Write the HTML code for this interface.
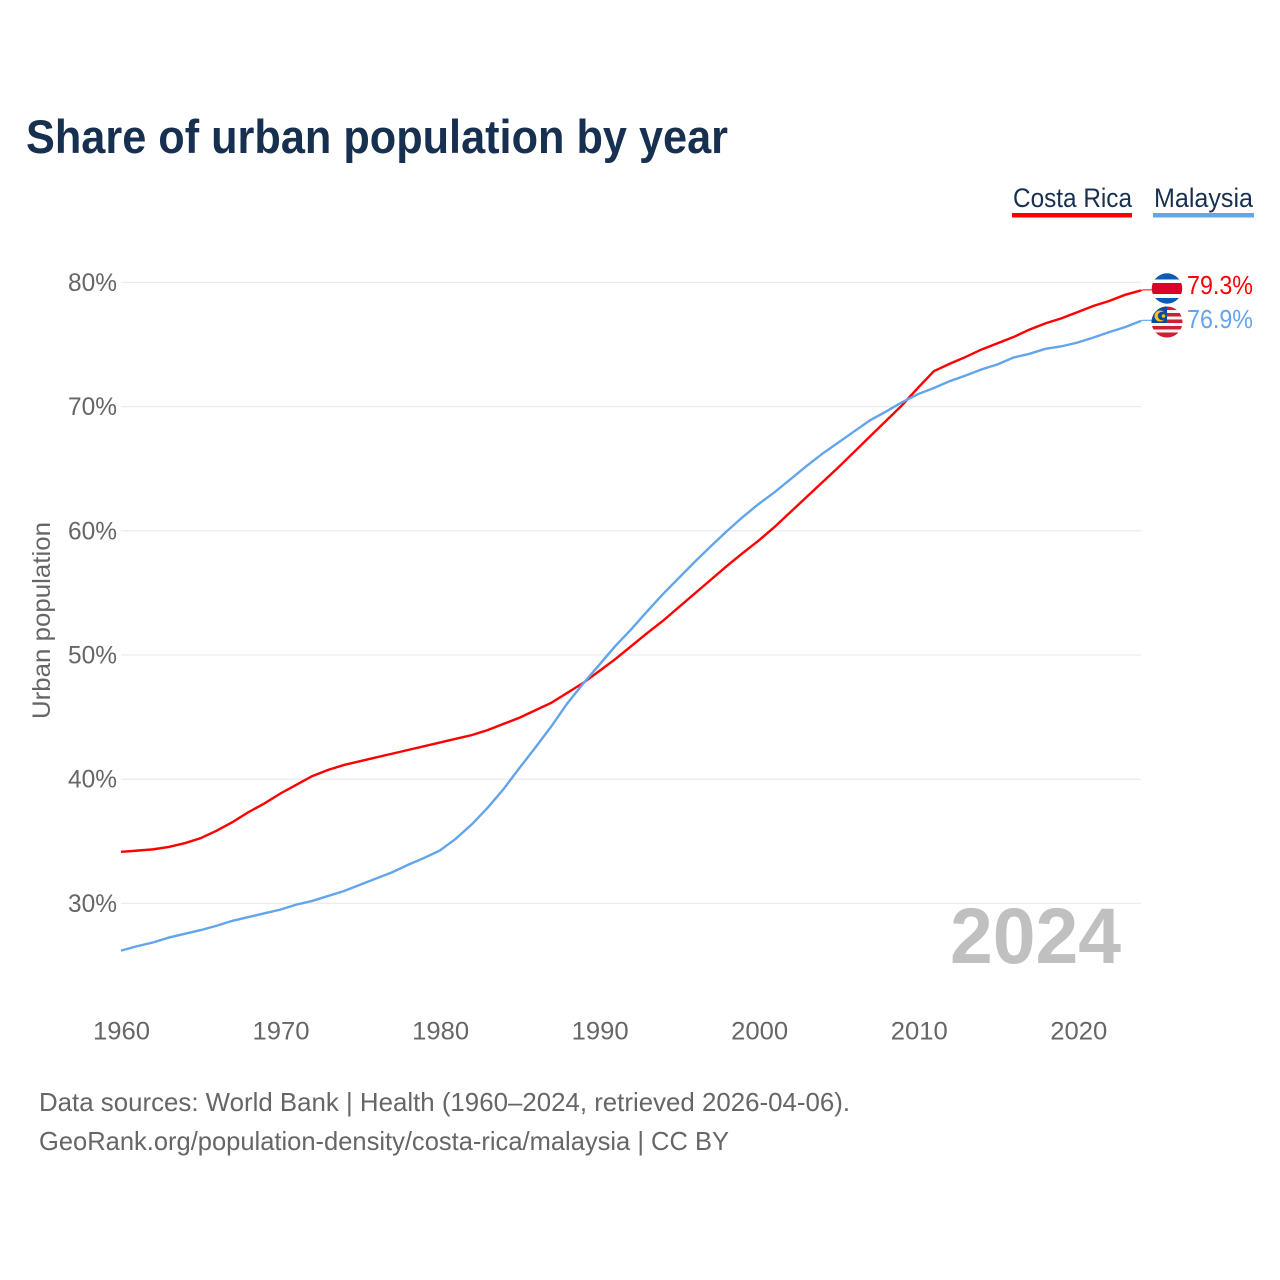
<!DOCTYPE html>
<html lang="en">
<head>
<meta charset="utf-8">
<title>Share of urban population by year</title>
<style>
html,body{margin:0;padding:0;background:#fff;width:1280px;height:1280px;overflow:hidden}
svg{display:block}
text{font-family:"Liberation Sans",sans-serif}
</style>
</head>
<body>
<svg id="chart" xmlns="http://www.w3.org/2000/svg" width="1280" height="1280" viewBox="0 0 1280 1280">
  <defs>
    <clipPath id="clip-cr"><circle cx="1167" cy="288.5" r="15.2"/></clipPath>
    <clipPath id="clip-my"><circle cx="1167" cy="322" r="15.5"/></clipPath>
  </defs>
  <text x="26" y="153" font-size="47" font-weight="700" fill="#18304f" textLength="702" lengthAdjust="spacingAndGlyphs">Share of urban population by year</text>

  <g>
    <g>
      <text x="1013" y="207" font-size="27" fill="#18304f" textLength="119" lengthAdjust="spacingAndGlyphs">Costa Rica</text>
      <rect x="1012" y="213" width="120" height="4.5" fill="#ff0000"/>
    </g>
    <g>
      <text x="1154" y="207" font-size="27" fill="#18304f" textLength="99" lengthAdjust="spacingAndGlyphs">Malaysia</text>
      <rect x="1153" y="213" width="101" height="4.5" fill="#62a5ec"/>
    </g>
  </g>

  <g id="grid"></g>
  <g id="yticks"></g>
  <g id="xticks"></g>

  <text transform="translate(50,719) rotate(-90)" x="0" y="0" font-size="25" fill="#666666" textLength="197" lengthAdjust="spacingAndGlyphs">Urban population</text>

  <text x="950" y="963" font-size="79" font-weight="700" fill="#c0c0c0" textLength="171" lengthAdjust="spacingAndGlyphs">2024</text>

  <g id="series"></g>

  <g clip-path="url(#clip-cr)">
    <rect x="1151" y="273" width="32" height="31" fill="#0c5cb3"/>
    <rect x="1151" y="279.5" width="32" height="18.5" fill="#ffffff"/>
    <rect x="1151" y="283" width="32" height="11" fill="#d90429"/>
  </g>
  <g clip-path="url(#clip-my)">
    <rect x="1151" y="306" width="32" height="32" fill="#f4f4f4"/>
    <rect x="1151" y="306" width="32" height="4" fill="#cc1f36"/>
    <rect x="1151" y="313" width="32" height="3.5" fill="#cc1f36"/>
    <rect x="1151" y="319.5" width="32" height="3.5" fill="#cc1f36"/>
    <rect x="1151" y="326" width="32" height="3.5" fill="#cc1f36"/>
    <rect x="1151" y="332.5" width="32" height="6" fill="#cc1f36"/>
    <rect x="1151" y="306" width="16" height="17" fill="#0d4a9c"/>
    <circle cx="1160" cy="316" r="5.5" fill="#f5c518"/>
    <circle cx="1162" cy="316" r="4.2" fill="#0d4a9c"/>
    <circle cx="1163.5" cy="316" r="1.8" fill="#f5c518"/>
  </g>

  <text x="1187" y="294" font-size="26" fill="#ff0000" textLength="66" lengthAdjust="spacingAndGlyphs">79.3%</text>
  <text x="1187" y="328" font-size="26" fill="#62a5ec" textLength="66" lengthAdjust="spacingAndGlyphs">76.9%</text>

  <text x="39" y="1111" font-size="26" fill="#666666" textLength="811" lengthAdjust="spacingAndGlyphs">Data sources: World Bank | Health (1960–2024, retrieved 2026-04-06).</text>
  <text x="39" y="1150" font-size="26" fill="#666666" textLength="690" lengthAdjust="spacingAndGlyphs">GeoRank.org/population-density/costa-rica/malaysia | CC BY</text>
</svg>
<script>
const years = [1960,1961,1962,1963,1964,1965,1966,1967,1968,1969,1970,1971,1972,1973,1974,1975,1976,1977,1978,1979,1980,1981,1982,1983,1984,1985,1986,1987,1988,1989,1990,1991,1992,1993,1994,1995,1996,1997,1998,1999,2000,2001,2002,2003,2004,2005,2006,2007,2008,2009,2010,2011,2012,2013,2014,2015,2016,2017,2018,2019,2020,2021,2022,2023,2024];
const costaRica = [34.15,34.25,34.35,34.55,34.85,35.25,35.85,36.55,37.35,38.05,38.85,39.55,40.25,40.75,41.15,41.45,41.75,42.05,42.35,42.65,42.95,43.25,43.55,43.95,44.45,44.95,45.55,46.15,46.95,47.75,48.7,49.65,50.7,51.75,52.75,53.85,54.95,56.05,57.15,58.2,59.2,60.3,61.5,62.7,63.9,65.1,66.35,67.6,68.85,70.1,71.5,72.85,73.45,74.0,74.6,75.1,75.6,76.2,76.7,77.1,77.6,78.1,78.5,79.0,79.35];
const malaysia = [26.2,26.55,26.85,27.25,27.55,27.85,28.2,28.6,28.9,29.2,29.5,29.9,30.2,30.6,31.0,31.5,32.0,32.5,33.1,33.65,34.25,35.2,36.35,37.7,39.2,40.9,42.55,44.25,46.1,47.7,49.2,50.7,52.05,53.5,54.9,56.2,57.5,58.75,59.95,61.1,62.15,63.1,64.15,65.2,66.2,67.1,68.0,68.9,69.6,70.35,71.0,71.5,72.05,72.5,73.0,73.4,73.95,74.25,74.65,74.85,75.15,75.55,76.0,76.4,76.9];
const yTicks = [30,40,50,60,70,80];
const xTicks = [1960,1970,1980,1990,2000,2010,2020];
const NS = 'http://www.w3.org/2000/svg';
const xOf = function(year){ return 121 + (year - 1960) * (1141 - 121) / 64; };
const yOf = function(v){ return 903.4 - (v - 30) * (903.4 - 282.4) / 50; };

const grid = document.getElementById('grid');
const yG = document.getElementById('yticks');
const xG = document.getElementById('xticks');
const seriesG = document.getElementById('series');

yTicks.forEach(function(t){
  const l = document.createElementNS(NS,'line');
  
  
  l.setAttribute('x1', 121); l.setAttribute('x2', 1141);
  l.setAttribute('y1', yOf(t)); l.setAttribute('y2', yOf(t));
  l.setAttribute('stroke', '#ececec'); l.setAttribute('stroke-width', '1.3');
  grid.appendChild(l);
  const s = document.createElementNS(NS,'text');
  
  
  s.setAttribute('x', 68); s.setAttribute('y', yOf(t) + 8.5);
  s.setAttribute('font-size', '25'); s.setAttribute('fill', '#666666');
  s.setAttribute('textLength', '49'); s.setAttribute('lengthAdjust', 'spacingAndGlyphs');
  s.textContent = t + '%';
  yG.appendChild(s);
});

xTicks.forEach(function(t){
  const s = document.createElementNS(NS,'text');
  
  
  s.setAttribute('x', xOf(t) + 0.5 + (t - 1960) / 60 - 28.5); s.setAttribute('y', 1039.5);
  s.setAttribute('font-size', '25'); s.setAttribute('fill', '#666666');
  s.setAttribute('textLength', '57'); s.setAttribute('lengthAdjust', 'spacingAndGlyphs');
  s.textContent = t;
  xG.appendChild(s);
});

function pathFor(values){
  return values.map(function(v,i){
    return (i ? 'L' : 'M') + xOf(years[i]).toFixed(2) + ' ' + yOf(v).toFixed(2);
  }).join(' ');
}
function connectorFor(values){
  const last = values[values.length - 1];
  return 'M' + xOf(years[years.length - 1]).toFixed(2) + ' ' + yOf(last).toFixed(2) + ' L1143 ' + (yOf(last) - 0.6).toFixed(2) + ' L1152 ' + (yOf(last) - 0.6).toFixed(2);
}

const lineCr = document.createElementNS(NS,'path');


lineCr.setAttribute('d', pathFor(costaRica));
lineCr.setAttribute('fill', 'none');
lineCr.setAttribute('stroke', '#ff0000');
lineCr.setAttribute('stroke-width', '2.4');
seriesG.appendChild(lineCr);

const connCr = document.createElementNS(NS,'path');


connCr.setAttribute('d', connectorFor(costaRica));
connCr.setAttribute('fill', 'none');
connCr.setAttribute('stroke', '#ff0000');
connCr.setAttribute('stroke-width', '1.1');
seriesG.appendChild(connCr);

const lineMy = document.createElementNS(NS,'path');


lineMy.setAttribute('d', pathFor(malaysia));
lineMy.setAttribute('fill', 'none');
lineMy.setAttribute('stroke', '#62a5ec');
lineMy.setAttribute('stroke-width', '2.4');
seriesG.appendChild(lineMy);

const connMy = document.createElementNS(NS,'path');


connMy.setAttribute('d', connectorFor(malaysia));
connMy.setAttribute('fill', 'none');
connMy.setAttribute('stroke', '#62a5ec');
connMy.setAttribute('stroke-width', '1.1');
seriesG.appendChild(connMy);
</script>
</body>
</html>
